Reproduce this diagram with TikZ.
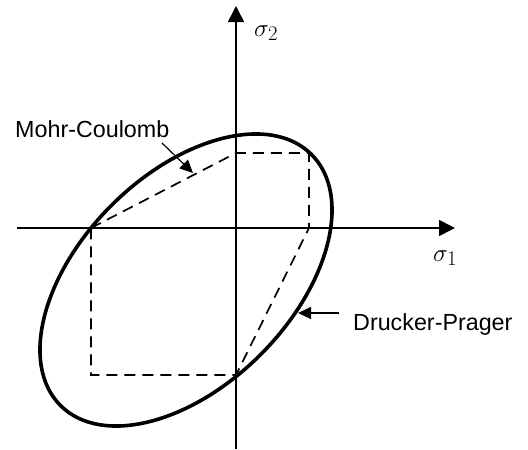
\documentclass[tikz,border=0pt]{standalone}
\usepackage{fontspec}
\setmainfont{Liberation Sans}
\usetikzlibrary{arrows.meta}
\begin{document}
\begin{tikzpicture}[x=1pt,y=-1pt,
  axis/.style={line width=1.6pt,-{Triangle[length=16pt,width=16pt]}},
  mcline/.style={line width=1.7pt,dash pattern=on 11pt off 7pt},
  yield/.style={line width=3.6pt},
  pointer/.style={line width=1.2pt,-{Triangle[length=13pt,width=12pt]}},
  lab/.style={font=\fontsize{23.3}{26}\selectfont,inner sep=0pt,anchor=base west},
  sig/.style={font=\fontsize{28}{30}\selectfont,inner sep=0pt,anchor=base west}]
\useasboundingbox (0,0) rectangle (528,450);
% axes
\coordinate (xs) at (17,228);
\coordinate (xe) at (455,228);
\coordinate (ys) at (236,449);
\coordinate (ye) at (236,6);
\draw[axis] (xs) -- (xe);
\draw[axis] (ys) -- (ye);
\node[sig] (s1) at (433,261) {$\sigma_1$};
\node[sig] (s2) at (254,36) {$\sigma_2$};
% ellipse (Drucker-Prager)
\coordinate (c) at (186,280);
\draw[yield,rotate around={45:(c)}] (c) ellipse (177.5 and 105.5);
% Mohr-Coulomb hexagon
\coordinate (p1) at (91,228);
\coordinate (p2) at (236,153);
\coordinate (p3) at (309,153);
\coordinate (p4) at (309,228);
\coordinate (p5) at (236,375);
\coordinate (p6) at (91,375);
\draw[mcline] (p1) -- (p2) -- (p3) -- (p4) -- (p5) -- (p6) -- cycle;
% labels
\node[lab] (mc) at (15,137) {Mohr-Coulomb};
\node[lab] (dp) at (353,330) {Drucker-Prager};
\coordinate (mca) at (162,143);
\coordinate (mcb) at (193,173);
\coordinate (dpa) at (339,313);
\coordinate (dpb) at (298,313);
\draw[pointer] (mca) -- (mcb);
\draw[pointer] (dpa) -- (dpb);
\end{tikzpicture}
\end{document}
